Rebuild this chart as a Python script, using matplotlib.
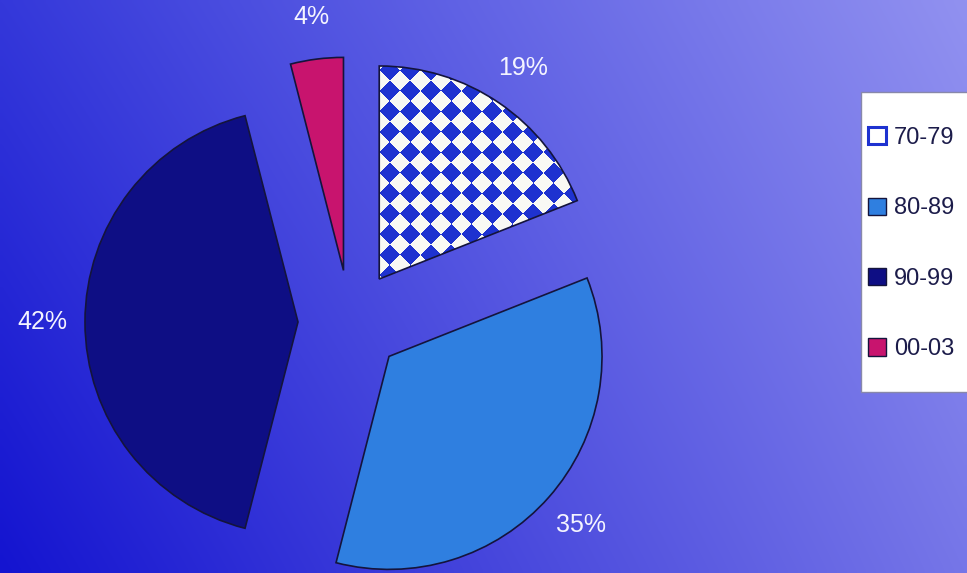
import matplotlib
matplotlib.use("Agg")
import matplotlib.pyplot as plt
import numpy as np
from matplotlib.patches import Patch, Rectangle

plt.rcParams["font.family"] = ["Liberation Sans", "DejaVu Sans"]

# share of items per decade
DECADES = ["70-79", "80-89", "90-99", "00-03"]
SHARES = [19, 35, 42, 4]
SLICE_COLORS = ["#1e32d0", "#2f7fe0", "#0e0e84", "#c8146e"]

W, H = 967, 573
CENTER = (350, 251)
RADIUS = 213
EXPLODE = 52


def gradient_background(ax):
    yy, xx = np.mgrid[0:1:120j, 0:1:200j]
    tl = np.array([52, 56, 218]) / 255
    tr = np.array([145, 145, 240]) / 255
    bl = np.array([20, 20, 208]) / 255
    br = np.array([118, 118, 232]) / 255
    xx = xx[..., None]
    yy = yy[..., None]
    bottom = bl * (1 - xx) + br * xx
    top = tl * (1 - xx) + tr * xx
    img = bottom * (1 - yy) + top * yy
    ax.imshow(img, extent=(0, W, 0, H), origin="lower", zorder=0,
              interpolation="bilinear", aspect="auto")


def diamond_fill(ax, wedge, color, period=20.5):
    yy, xx = np.mgrid[0:H, 0:W].astype(float)
    u = np.floor((xx + yy) / period)
    v = np.floor((xx - yy) / period)
    white = ((u + v) % 2) == 0
    rgb = np.array(matplotlib.colors.to_rgb(color))
    img = np.where(white[..., None], np.array([0.98, 0.98, 0.96]), rgb)
    im = ax.imshow(img, extent=(0, W, 0, H), origin="lower", zorder=0.9,
                   interpolation="nearest", aspect="auto")
    im.set_clip_path(wedge)
    wedge.set_facecolor("none")


fig = plt.figure(figsize=(W / 100, H / 100), dpi=100)
ax = fig.add_axes([0, 0, 1, 1])

gradient_background(ax)

wedges, _, pct_texts = ax.pie(
    SHARES,
    explode=[EXPLODE] * len(SHARES),
    startangle=90,
    counterclock=False,
    radius=RADIUS,
    center=CENTER,
    colors=SLICE_COLORS,
    labels=DECADES,
    labeldistance=None,
    autopct="%.0f%%",
    pctdistance=1.2,
    wedgeprops=dict(edgecolor="#14143c", linewidth=1.2),
    textprops=dict(color="#f4f4ff", fontsize=18),
    frame=True,
)

diamond_fill(ax, wedges[0], SLICE_COLORS[0])

ax.set_xlim(0, W)
ax.set_ylim(0, H)
ax.axis("off")

# legend box runs off the right edge of the figure
ax.add_patch(Rectangle((861, H - 392), 130, 300, facecolor="white",
                       edgecolor="#8888aa", linewidth=1.0, zorder=4,
                       clip_on=False))

handles = [Patch(facecolor="white", edgecolor=SLICE_COLORS[0], linewidth=2.2)]
handles += [Patch(facecolor=c, edgecolor="#14143c", linewidth=1) for c in SLICE_COLORS[1:]]
leg = ax.legend(
    handles, DECADES,
    loc="upper left",
    bbox_to_anchor=(868 / W, 1 - 127 / H),
    bbox_transform=fig.transFigure,
    frameon=False,
    fontsize=17,
    labelcolor="#1c1c4a",
    handlelength=0.75, handleheight=0.75, handletextpad=0.35,
    labelspacing=2.05, borderpad=0, borderaxespad=0,
)
leg.set_zorder(5)

fig.savefig("out.png", dpi=100)
